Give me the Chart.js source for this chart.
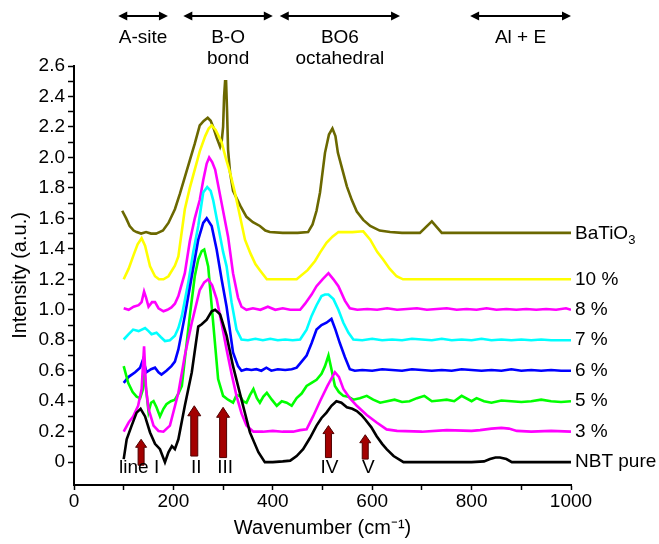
<!DOCTYPE html>
<html>
<head>
<meta charset="utf-8">
<script src="https://cdn.jsdelivr.net/npm/chart.js@4.4.0/dist/chart.umd.min.js"></script>
<style>
  html, body { margin: 0; padding: 0; background: #fff; }
</style>
</head>
<body>
<canvas id="ramanChart" width="659" height="544"></canvas>
<script>
// Spectra as [wavenumber, intensity] pairs
const nbtPure = [[100,0.02],[106,0.15],[116,0.24],[126,0.325],[134,0.35],[143,0.30],[153,0.195],[163,0.12],[173,0.085],[183,0.0],[190,0.065],[197,0.105],[203,0.085],[210,0.15],[223,0.37],[237,0.59],[250,0.89],[257,0.905],[267,0.935],[277,0.99],[284,1.0],[294,0.97],[307,0.83],[320,0.63],[337,0.41],[354,0.195],[371,0.065],[384,0.0],[400,0.0],[420,0.005],[435,0.01],[448,0.04],[461,0.085],[475,0.16],[488,0.24],[498,0.29],[508,0.325],[518,0.37],[528,0.40],[538,0.39],[549,0.36],[560,0.35],[569,0.335],[578,0.31],[586,0.28],[598,0.23],[609,0.17],[620,0.12],[629,0.085],[643,0.04],[663,0.0],[700,0.0],[750,0.0],[800,0.0],[825,0.005],[837,0.02],[848,0.03],[857,0.03],[870,0.02],[881,0.0],[900,0.0],[950,0.0],[1000,0.0]];
const pct3 = [[100,0.2],[110,0.26],[119,0.30],[129,0.37],[136,0.48],[141,0.76],[145,0.48],[150,0.35],[160,0.24],[170,0.205],[180,0.2],[193,0.24],[210,0.455],[223,0.70],[237,0.915],[253,1.13],[262,1.18],[270,1.20],[278,1.16],[287,1.07],[297,0.91],[307,0.74],[317,0.58],[327,0.435],[337,0.32],[347,0.24],[361,0.2],[380,0.2],[400,0.205],[420,0.2],[441,0.2],[455,0.21],[468,0.215],[481,0.30],[495,0.40],[510,0.50],[525,0.59],[533,0.56],[542,0.48],[555,0.42],[569,0.37],[589,0.31],[609,0.26],[629,0.215],[650,0.205],[700,0.2],[750,0.21],[800,0.205],[817,0.21],[840,0.22],[860,0.225],[875,0.22],[891,0.205],[920,0.2],[960,0.205],[1000,0.2]];
const pct5 = [[100,0.63],[109,0.52],[118,0.46],[126,0.43],[133,0.42],[138,0.47],[142,0.58],[145,0.48],[150,0.33],[155,0.39],[160,0.40],[166,0.36],[173,0.30],[180,0.35],[186,0.38],[195,0.40],[203,0.41],[210,0.45],[217,0.50],[223,0.675],[233,0.96],[243,1.22],[250,1.33],[257,1.385],[262,1.395],[270,1.285],[280,0.915],[290,0.545],[300,0.435],[310,0.41],[320,0.39],[327,0.44],[334,0.435],[340,0.40],[347,0.39],[354,0.44],[361,0.48],[368,0.42],[374,0.39],[381,0.43],[388,0.455],[398,0.41],[408,0.37],[418,0.40],[428,0.39],[438,0.37],[448,0.42],[458,0.45],[468,0.50],[478,0.52],[488,0.54],[498,0.58],[505,0.63],[512,0.70],[518,0.61],[525,0.50],[533,0.46],[542,0.435],[552,0.43],[562,0.41],[575,0.42],[589,0.435],[602,0.41],[616,0.39],[630,0.40],[645,0.41],[660,0.395],[675,0.40],[690,0.42],[705,0.435],[720,0.40],[735,0.405],[750,0.41],[765,0.40],[780,0.435],[800,0.40],[810,0.42],[825,0.40],[840,0.39],[860,0.405],[880,0.40],[900,0.395],[920,0.40],[940,0.41],[960,0.40],[980,0.395],[1000,0.40]];
const pct6 = [[100,0.52],[110,0.56],[123,0.59],[133,0.62],[139,0.675],[146,0.59],[155,0.61],[163,0.62],[170,0.59],[176,0.575],[186,0.60],[196,0.63],[203,0.66],[210,0.74],[223,0.96],[237,1.22],[250,1.46],[260,1.57],[267,1.60],[277,1.55],[287,1.395],[297,1.2],[307,1.02],[320,0.72],[330,0.63],[337,0.60],[347,0.61],[357,0.605],[367,0.61],[377,0.60],[387,0.62],[397,0.60],[410,0.61],[425,0.605],[438,0.61],[448,0.62],[458,0.66],[468,0.70],[478,0.78],[488,0.87],[498,0.90],[508,0.915],[518,0.94],[526,0.87],[535,0.78],[545,0.69],[555,0.61],[565,0.60],[580,0.605],[600,0.60],[620,0.61],[640,0.605],[660,0.60],[680,0.61],[700,0.605],[720,0.60],[740,0.605],[760,0.60],[780,0.61],[800,0.605],[820,0.60],[840,0.605],[860,0.60],[880,0.61],[900,0.60],[920,0.605],[940,0.60],[960,0.605],[980,0.60],[1000,0.60]];
const pct7 = [[100,0.805],[110,0.84],[119,0.87],[130,0.86],[143,0.88],[150,0.86],[156,0.84],[166,0.85],[175,0.82],[183,0.795],[193,0.80],[203,0.83],[210,0.88],[217,0.96],[230,1.18],[240,1.38],[250,1.55],[260,1.77],[268,1.805],[275,1.78],[280,1.72],[290,1.55],[300,1.38],[307,1.285],[317,1.05],[327,0.87],[337,0.805],[350,0.80],[365,0.81],[380,0.80],[395,0.81],[410,0.80],[425,0.805],[440,0.80],[455,0.805],[468,0.87],[478,0.96],[488,1.03],[498,1.09],[505,1.10],[512,1.10],[522,1.07],[532,1.0],[542,0.915],[552,0.85],[562,0.805],[580,0.80],[600,0.81],[620,0.80],[640,0.805],[660,0.80],[680,0.81],[700,0.805],[720,0.80],[740,0.81],[760,0.80],[780,0.805],[800,0.80],[820,0.81],[840,0.80],[860,0.805],[880,0.80],[900,0.805],[920,0.80],[940,0.805],[960,0.80],[980,0.80],[1000,0.80]];
const pct8 = [[100,1.01],[110,1.0],[120,1.02],[130,1.03],[136,1.05],[141,1.12],[145,1.08],[150,1.02],[157,1.05],[163,1.05],[170,1.01],[180,0.99],[188,1.0],[196,1.015],[203,1.04],[210,1.09],[223,1.24],[233,1.45],[243,1.6],[253,1.72],[260,1.85],[267,1.96],[272,2.0],[278,1.97],[284,1.92],[297,1.70],[310,1.48],[320,1.24],[330,1.08],[337,1.02],[347,1.0],[360,1.01],[375,1.0],[390,1.02],[405,1.0],[420,1.01],[435,1.0],[448,1.0],[455,1.0],[465,1.04],[478,1.10],[488,1.155],[500,1.20],[512,1.24],[522,1.20],[532,1.155],[545,1.06],[555,1.01],[570,1.0],[590,1.005],[610,1.0],[630,1.01],[650,1.0],[670,1.005],[690,1.01],[710,1.0],[730,1.005],[750,1.01],[770,1.0],[790,1.005],[810,1.0],[830,1.01],[850,1.0],[870,1.005],[890,1.0],[910,1.005],[930,1.0],[950,1.005],[970,1.0],[990,1.01],[1000,1.0]];
const pct10 = [[100,1.2],[110,1.27],[120,1.36],[128,1.43],[136,1.47],[143,1.42],[153,1.285],[163,1.22],[171,1.2],[180,1.2],[190,1.22],[203,1.29],[210,1.35],[223,1.66],[233,1.80],[243,1.92],[253,2.04],[264,2.14],[271,2.19],[277,2.21],[285,2.18],[297,2.1],[305,2.0],[314,1.9],[323,1.78],[331,1.66],[344,1.46],[355,1.37],[365,1.30],[374,1.26],[388,1.2],[420,1.2],[448,1.2],[470,1.26],[485,1.32],[495,1.375],[508,1.44],[520,1.48],[532,1.51],[560,1.51],[582,1.515],[596,1.46],[610,1.38],[622,1.33],[635,1.27],[649,1.22],[662,1.2],[700,1.2],[800,1.2],[900,1.2],[1000,1.2]];
const batio3 = [[97,1.65],[105,1.60],[112,1.55],[120,1.52],[126,1.51],[135,1.5],[145,1.51],[155,1.5],[165,1.5],[172,1.51],[179,1.52],[190,1.57],[203,1.66],[213,1.76],[223,1.87],[233,1.98],[243,2.09],[253,2.21],[261,2.24],[269,2.26],[275,2.24],[280,2.2],[287,2.13],[294,2.07],[297,2.1],[300,2.2],[302,2.4],[304,2.5],[306,2.5],[308,2.3],[310,2.05],[314,1.9],[320,1.78],[335,1.68],[347,1.61],[360,1.575],[374,1.55],[385,1.52],[394,1.51],[420,1.505],[450,1.505],[471,1.51],[480,1.56],[488,1.65],[495,1.77],[505,2.03],[513,2.15],[520,2.19],[526,2.14],[531,2.03],[540,1.92],[549,1.81],[559,1.72],[569,1.645],[582,1.59],[596,1.55],[615,1.52],[636,1.51],[660,1.505],[696,1.505],[720,1.58],[740,1.505],[800,1.505],[900,1.505],[1000,1.505]];

const seriesData = [nbtPure, pct3, pct5, pct6, pct7, pct8, pct10, batio3];
const seriesNames = ['NBT pure', '3 %', '5 %', '6 %', '7 %', '8 %', '10 %', 'BaTiO3'];
const seriesBaselines = [0, 0.2, 0.4, 0.6, 0.8, 1.0, 1.2, 1.5];
const seriesColors = ['#000000', '#ff00ff', '#00ff00', '#0000ff', '#00ffff', '#ff00ff', '#ffff00', '#6b6800'];

// tick values
const xTickValues = [0, 100, 200, 300, 400, 500, 600, 700, 800, 900, 1000];
const yTickValues = [0, 0.1, 0.2, 0.3, 0.4, 0.5, 0.6, 0.7, 0.8, 0.9, 1.0, 1.1, 1.2, 1.3, 1.4, 1.5, 1.6, 1.7, 1.8, 1.9, 2.0, 2.1, 2.2, 2.3, 2.4, 2.5, 2.6];

// red peak markers (wavenumber, tail, tip) and their labels
const markerX = [135, 242, 300, 512, 586];
const markerTail = [-0.02, 0.04, 0.03, 0.03, 0.02];
const markerTip = [0.15, 0.37, 0.36, 0.24, 0.18];
const markerLabels = ['line I', 'II', 'III', 'IV', 'V'];
const markerLabelX = [131, 246, 304, 514, 592];

// vibration regions on top
const regionFrom = [89, 220, 414, 797];
const regionTo = [189, 400, 656, 1000];
const regionLabels = [['A-site'], ['B-O', 'bond'], ['BO6', 'octahedral'], ['Al + E']];

const FONT_FAMILY = "'Liberation Sans', Arial, Helvetica, sans-serif";
const FONT_SIZE = 19;

function upArrow(ctx, px, yTail, yTip, shaft, head, headLen) {
  ctx.beginPath();
  ctx.moveTo(px - shaft / 2, yTail);
  ctx.lineTo(px - shaft / 2, yTip + headLen);
  ctx.lineTo(px - head / 2, yTip + headLen);
  ctx.lineTo(px, yTip);
  ctx.lineTo(px + head / 2, yTip + headLen);
  ctx.lineTo(px + shaft / 2, yTip + headLen);
  ctx.lineTo(px + shaft / 2, yTail);
  ctx.closePath();
  ctx.fillStyle = '#a30000';
  ctx.fill();
  ctx.strokeStyle = '#500000';
  ctx.lineWidth = 1;
  ctx.stroke();
}

function doubleArrow(ctx, x1, x2, y) {
  const hl = 9, hw = 4.5;
  ctx.strokeStyle = '#000';
  ctx.fillStyle = '#000';
  ctx.lineWidth = 2;
  ctx.beginPath();
  ctx.moveTo(x1 + hl - 1, y);
  ctx.lineTo(x2 - hl + 1, y);
  ctx.stroke();
  ctx.beginPath();
  ctx.moveTo(x1, y); ctx.lineTo(x1 + hl, y - hw); ctx.lineTo(x1 + hl, y + hw); ctx.closePath();
  ctx.fill();
  ctx.beginPath();
  ctx.moveTo(x2, y); ctx.lineTo(x2 - hl, y - hw); ctx.lineTo(x2 - hl, y + hw); ctx.closePath();
  ctx.fill();
}

const overlay = {
  id: 'overlay',
  afterDatasetsDraw(chart) {
    const { ctx, chartArea, scales } = chart;
    const x = scales.x, y = scales.y;
    ctx.save();

    // peak markers
    markerX.forEach((wn, i) => {
      const big = i > 0 && i < 3;
      upArrow(ctx, x.getPixelForValue(wn), y.getPixelForValue(markerTail[i]), y.getPixelForValue(markerTip[i]),
        big ? 7 : 6, big ? 13 : 11, big ? 10 : 8);
    });
    ctx.font = FONT_SIZE + 'px ' + FONT_FAMILY;
    ctx.fillStyle = '#000';
    ctx.textAlign = 'center';
    ctx.textBaseline = 'middle';
    markerLabels.forEach((t, i) => {
      ctx.fillText(t, x.getPixelForValue(markerLabelX[i]), y.getPixelForValue(-0.035));
    });

    // series names on the right
    ctx.textAlign = 'left';
    seriesNames.forEach((name, i) => {
      const px = chartArea.right + 4;
      const py = y.getPixelForValue(seriesBaselines[i]);
      ctx.fillStyle = '#000';
      if (name === 'BaTiO3') {
        ctx.font = FONT_SIZE + 'px ' + FONT_FAMILY;
        ctx.fillText('BaTiO', px, py);
        const w = ctx.measureText('BaTiO').width;
        ctx.font = '13px ' + FONT_FAMILY;
        ctx.fillText('3', px + w, py + 7);
      } else {
        ctx.font = FONT_SIZE + 'px ' + FONT_FAMILY;
        ctx.fillText(name, px, py);
      }
    });

    // regions on top
    ctx.font = FONT_SIZE + 'px ' + FONT_FAMILY;
    ctx.textAlign = 'center';
    regionFrom.forEach((from, i) => {
      const x1 = x.getPixelForValue(from);
      const x2 = x.getPixelForValue(regionTo[i]);
      doubleArrow(ctx, x1, x2, 16);
      regionLabels[i].forEach((line, j) => {
        ctx.fillText(line, (x1 + x2) / 2, 38 + j * 21);
      });
    });

    ctx.restore();
  }
};

const ctx = document.getElementById('ramanChart').getContext('2d');
new Chart(ctx, {
  type: 'line',
  data: {
    datasets: seriesData.map((pts, i) => ({
      label: seriesNames[i],
      data: pts.map(p => ({ x: p[0], y: p[1] })),
      borderColor: seriesColors[i],
      borderWidth: 2.6,
      pointRadius: 0,
      tension: 0,
      fill: false
    }))
  },
  options: {
    responsive: false,
    animation: false,
    layout: { padding: { top: 66, right: 88, left: 0, bottom: 0 } },
    plugins: {
      legend: { display: false },
      tooltip: { enabled: false }
    },
    scales: {
      x: {
        type: 'linear',
        min: 0,
        max: 1000,
        afterFit: s => { s.height = 59; },
        afterBuildTicks: s => { s.ticks = xTickValues.map(v => ({ value: v })); },
        ticks: {
          autoSkip: false,
          maxRotation: 0,
          color: '#000',
          padding: 0,
          font: { family: FONT_FAMILY, size: FONT_SIZE },
          callback: v => (v % 200 === 0 ? String(v) : '')
        },
        grid: { drawOnChartArea: false, color: '#000', tickLength: 5, tickWidth: 1.5 },
        border: { color: '#000', width: 2 },
        title: {
          display: true,
          text: 'Wavenumber (cm\u207B\u00B9)',
          color: '#000',
          font: { family: FONT_FAMILY, size: 20 },
          padding: { top: 0, bottom: 4 }
        }
      },
      y: {
        min: -0.15,
        max: 2.6,
        afterFit: s => { s.width = 74; },
        afterBuildTicks: s => { s.ticks = yTickValues.map(v => ({ value: v })); },
        ticks: {
          autoSkip: false,
          color: '#000',
          padding: 3,
          font: { family: FONT_FAMILY, size: FONT_SIZE },
          callback: v => {
            const k = Math.round(v * 10);
            if (k % 2 !== 0) return '';
            return k === 0 ? '0' : (k / 10).toFixed(1);
          }
        },
        grid: { drawOnChartArea: false, color: '#000', tickLength: 6, tickWidth: 1.5 },
        border: { color: '#000', width: 2 },
        title: {
          display: true,
          text: 'Intensity (a.u.)',
          color: '#000',
          font: { family: FONT_FAMILY, size: 20 },
          padding: { top: 8, bottom: 0 }
        }
      }
    }
  },
  plugins: [overlay]
});
</script>
</body>
</html>
